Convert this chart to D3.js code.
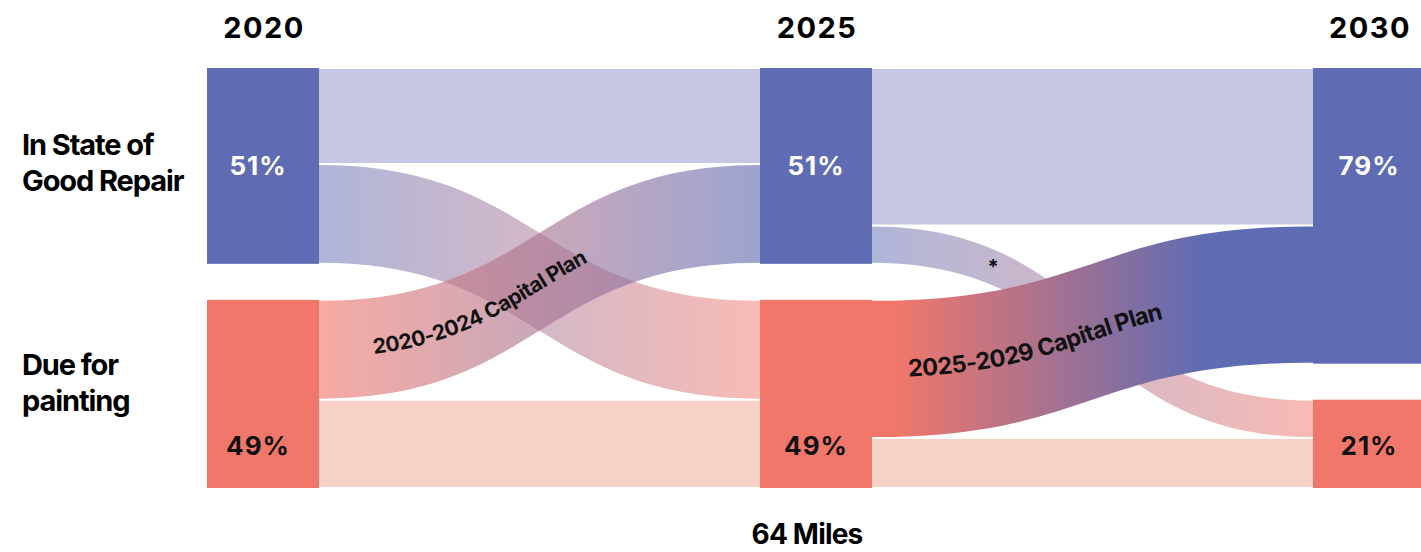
<!DOCTYPE html>
<html><head><meta charset="utf-8">
<script src="https://cdn.jsdelivr.net/npm/d3@7"></script>
<style>
html,body{margin:0;padding:0;background:#fff;}
svg{display:block;}
text{font-family:Inter,"Liberation Sans",Arial,sans-serif;}
</style></head><body>
<svg id="chart" width="1421" height="552"></svg>
<script>
// ---- data ----
const years = [2020, 2025, 2030];
const stateKeys = ["good", "due"];
const rowLabels = [["In State of", "Good Repair"], ["Due for", "painting"]];
const shareLabels = [["51%", "49%"], ["51%", "49%"], ["79%", "21%"]];
// flows (% of the 64 miles): good→good, good→due, due→good, due→due
const flows2020to2025 = [25, 26, 26, 23];
const flows2025to2030 = [41, 10, 36, 13];
const planLabels = ["2020-2024 Capital Plan", "2025-2029 Capital Plan"];
const starLabel = "*";
const footLabel = "64 Miles";

// ---- style ----
const BLUE = "#5f6cb3", RED = "#f1776a", LIGHT_BLUE = "#c5c7e4", LIGHT_RED = "#f7d1c8";

const svg = d3.select("#chart");
const defs = svg.append("defs");

const x = d3.scaleLinear().domain([2020, 2030]).range([207, 1313]);
const nodeW = 112;
const h = d3.scaleLinear().domain([0, 100]).range([0, 384]);
const topY = 68, gap = 36;

const periods = [flows2020to2025, flows2025to2030];

const nodeVals = [
  [flows2020to2025[0] + flows2020to2025[1], flows2020to2025[2] + flows2020to2025[3]],
  [flows2025to2030[0] + flows2025to2030[1], flows2025to2030[2] + flows2025to2030[3]],
  [flows2025to2030[0] + flows2025to2030[2], flows2025to2030[1] + flows2025to2030[3]]
];
const nodes = years.map((yr, c) => {
  const g0 = topY, g1 = topY + h(nodeVals[c][0]);
  const d0 = g1 + gap, d1 = d0 + h(nodeVals[c][1]);
  return [
    {c, s: 0, x0: x(yr), x1: x(yr) + nodeW, y0: g0, y1: g1},
    {c, s: 1, x0: x(yr), x1: x(yr) + nodeW, y0: d0, y1: d1}
  ];
});

const links = [];
periods.forEach((f, p) => {
  const src = nodes[p], tgt = nodes[p + 1];
  const def = [
    {s: 0, t: 0, v: f[0], kind: "stayGood"},
    {s: 0, t: 1, v: f[1], kind: "decline"},
    {s: 1, t: 0, v: f[2], kind: "plan"},
    {s: 1, t: 1, v: f[3], kind: "stayDue"}
  ];
  const sOff = [src[0].y0, src[1].y0];
  const tOff = [tgt[0].y0, tgt[1].y0];
  def.forEach(l => { l.sy0 = sOff[l.s]; sOff[l.s] += h(l.v); l.sy1 = sOff[l.s]; });
  [def[0], def[2], def[1], def[3]].forEach(l => { l.ty0 = tOff[l.t]; tOff[l.t] += h(l.v); l.ty1 = tOff[l.t]; });
  def.forEach(l => { l.p = p; l.x0 = src[0].x1; l.x1 = tgt[0].x0; links.push(l); });
});

function bandPath(l) {
  const xm = (l.x0 + l.x1) / 2, i = 1;
  const a = l.sy0 + i, b = l.sy1 - i, c = l.ty0 + i, d = l.ty1 - i;
  return `M${l.x0},${a}C${xm},${a} ${xm},${c} ${l.x1},${c}L${l.x1},${d}C${xm},${d} ${xm},${b} ${l.x0},${b}Z`;
}
const centerLine = d3.linkHorizontal();

function gradient(id, x0, x1, stops) {
  const g = defs.append("linearGradient").attr("id", id)
    .attr("gradientUnits", "userSpaceOnUse").attr("x1", x0).attr("x2", x1).attr("y1", 0).attr("y2", 0);
  stops.forEach(([o, c]) => g.append("stop").attr("offset", o).attr("stop-color", c));
}

const order = {stayGood: 0, stayDue: 1, decline: 2, plan: 3};
const sorted = links.slice().sort((a, b) => a.p - b.p || order[a.kind] - order[b.kind]);

const linkG = svg.append("g");
sorted.forEach((l, i) => {
  let fill, op = 1;
  if (l.kind === "stayGood") fill = LIGHT_BLUE;
  else if (l.kind === "stayDue") fill = LIGHT_RED;
  else if (l.kind === "decline") {
    const id = "g" + i;
    gradient(id, l.x0, l.x1, [[0, BLUE], [1, RED]]);
    fill = `url(#${id})`; op = 0.5;
  } else {
    const id = "g" + i;
    if (l.p === 0) { gradient(id, l.x0, l.x1, [[0, RED], [1, BLUE]]); op = 0.62; }
    else gradient(id, l.x0, l.x1, [[0.05, RED], [0.75, BLUE]]);
    fill = `url(#${id})`;
  }
  linkG.append("path").attr("d", bandPath(l)).attr("fill", fill).attr("fill-opacity", op);
});

const nodeG = svg.append("g");
nodes.flat().forEach(n => {
  nodeG.append("rect").attr("x", n.x0).attr("y", n.y0)
    .attr("width", n.x1 - n.x0).attr("height", n.y1 - n.y0)
    .attr("fill", n.s === 0 ? BLUE : RED);
  nodeG.append("text")
    .attr("x", (n.x0 + n.x1) / 2 - (n.c === 0 ? 5 : 0))
    .attr("y", n.s === 0 ? n.y0 + 107 : n.y1 - 33)
    .attr("text-anchor", "middle")
    .attr("font-size", 26).attr("font-weight", 700).attr("letter-spacing", 1)
    .attr("fill", n.s === 0 ? "#fff" : "#111")
    .text(shareLabels[n.c][n.s]);
});

const planStartX = [373, 908];
const planSize = [21, 23.5];
links.filter(l => l.kind === "plan").forEach(l => {
  const id = "cl" + l.p;
  const d = centerLine({source: [l.x0, (l.sy0 + l.sy1) / 2], target: [l.x1, (l.ty0 + l.ty1) / 2]});
  const path = defs.append("path").attr("id", id).attr("d", d);
  const node = path.node();
  const total = node.getTotalLength();
  let lo = 0, hi = total;
  for (let k = 0; k < 40; k++) { const m = (lo + hi) / 2; if (node.getPointAtLength(m).x < planStartX[l.p]) lo = m; else hi = m; }
  svg.append("text")
    .attr("font-size", planSize[l.p]).attr("font-weight", 700).attr("fill", "#111")
    .attr("letter-spacing", -0.6)
    .attr("dy", "0.35em")
    .append("textPath").attr("href", "#" + id).attr("startOffset", lo)
    .text(planLabels[l.p]);
});

links.filter(l => l.kind === "decline" && l.p === 1).forEach(l => {
  const d = centerLine({source: [l.x0, (l.sy0 + l.sy1) / 2], target: [l.x1, (l.ty0 + l.ty1) / 2]});
  const p = defs.append("path").attr("d", d).node();
  const total = p.getTotalLength();
  let lo = 0, hi = total;
  for (let k = 0; k < 40; k++) { const m = (lo + hi) / 2; if (p.getPointAtLength(m).x < 993) lo = m; else hi = m; }
  const pt = p.getPointAtLength(lo);
  svg.append("text").attr("x", pt.x).attr("y", pt.y + 7).attr("text-anchor", "middle")
    .attr("font-size", 20).attr("font-weight", 700).attr("fill", "#111").text(starLabel);
});

years.forEach(yr => {
  svg.append("text").attr("x", x(yr) + nodeW / 2 + 1).attr("y", 38)
    .attr("text-anchor", "middle").attr("font-size", 29).attr("font-weight", 700)
    .attr("letter-spacing", 1.5)
    .attr("fill", "#000").text(String(yr));
});

const rowFirstBaseline = [nodes[0][0].y0 + 87, nodes[0][1].y0 + 75];
rowLabels.forEach((lines, r) => {
  const t = svg.append("text").attr("x", 22).attr("y", rowFirstBaseline[r])
    .attr("font-size", 29).attr("font-weight", 700).attr("letter-spacing", -1.1).attr("fill", "#000");
  lines.forEach((ln, i) => t.append("tspan").attr("x", 22).attr("dy", i === 0 ? 0 : 36).text(ln));
});

svg.append("text").attr("x", 807).attr("y", 544).attr("text-anchor", "middle")
  .attr("font-size", 28).attr("font-weight", 700).attr("letter-spacing", -0.8).attr("fill", "#000")
  .text(footLabel);
</script>
</body></html>
